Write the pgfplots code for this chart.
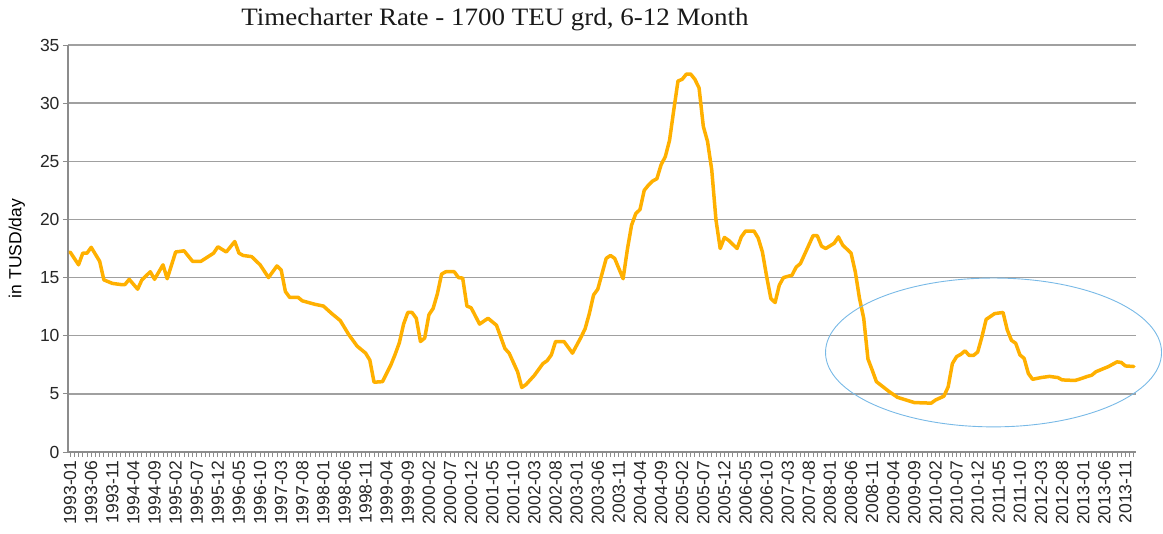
\documentclass[border=0pt]{standalone}
\usepackage{fontspec}
\setmainfont{Liberation Sans}
\newfontfamily\titlefont[FakeStretch=1.08]{Liberation Serif}
\usepackage{pgfplots}
\pgfplotsset{compat=1.18}
\definecolor{linecol}{RGB}{255,176,0}
\definecolor{gridcol}{RGB}{160,160,160}
\definecolor{axcol}{RGB}{140,140,140}
\definecolor{ellcol}{RGB}{120,185,230}
\pgfplotstableread{
i v
0 17.2
2 16.1
3 17.1
4 17.1
5 17.6
7 16.4
8 14.8
10 14.5
12 14.4
13 14.4
14 14.85
16 14.0
17 14.8
19 15.5
20 14.85
22 16.1
23 14.9
25 17.2
27 17.3
29 16.4
31 16.4
34 17.1
35 17.65
37 17.2
39 18.1
40 17.1
41 16.9
43 16.8
45 16.1
47 15.0
49 16.0
50 15.65
51 13.8
52 13.3
54 13.3
55 13.0
58 12.7
60 12.55
62 11.9
64 11.3
65 10.7
66 10.1
67 9.6
68 9.1
70 8.5
71 7.9
72 6.0
74 6.05
76 7.5
77 8.4
78 9.4
79 11.0
80 12.0
81 12.0
82 11.5
83 9.5
84 9.8
85 11.8
86 12.35
87 13.6
88 15.3
89 15.5
91 15.5
92 15.0
93 14.95
94 12.55
95 12.4
97 11.0
99 11.5
101 10.9
103 8.9
104 8.5
106 6.9
107 5.55
108 5.8
110 6.6
112 7.6
113 7.85
114 8.35
115 9.5
117 9.5
119 8.5
121 9.85
122 10.6
123 11.9
124 13.5
125 14.0
127 16.65
128 16.9
129 16.65
131 14.9
132 17.4
133 19.5
134 20.5
135 20.85
136 22.5
137 22.95
138 23.3
139 23.5
140 24.7
141 25.4
142 26.8
143 29.4
144 31.9
145 32.05
146 32.5
147 32.5
148 32.05
149 31.3
150 28.0
151 26.7
152 24.25
153 19.95
154 17.5
155 18.45
156 18.2
158 17.5
159 18.5
160 19.0
162 19.0
163 18.4
164 17.2
165 15.1
166 13.2
167 12.85
168 14.35
169 15.0
171 15.2
172 15.9
173 16.2
174 17.0
176 18.6
177 18.6
178 17.7
179 17.5
181 17.95
182 18.5
183 17.8
185 17.1
186 15.5
187 13.2
188 11.5
189 8.0
190 7.05
191 6.05
194 5.2
196 4.7
200 4.25
204 4.2
205 4.47
207 4.8
208 5.6
209 7.6
210 8.2
211 8.4
212 8.7
213 8.3
214 8.3
215 8.6
216 9.9
217 11.4
219 11.9
221 12.0
222 10.5
223 9.6
224 9.35
225 8.35
226 8.05
227 6.75
228 6.25
230 6.4
232 6.5
234 6.4
235 6.2
238 6.15
239 6.25
241 6.5
242 6.6
243 6.9
245 7.2
246 7.35
248 7.75
249 7.7
250 7.4
252 7.35
}\ratedata
\begin{document}
\begin{tikzpicture}[x=1pt,y=1pt]
\useasboundingbox (-68,-82) rectangle (1095,452);
\begin{axis}[
  at={(0,0)}, anchor=south west,
  scale only axis, width=1068pt, height=407pt,
  xmin=-0.5, xmax=252.5, ymin=0, ymax=35,
  clip=false,
  axis x line*=bottom, axis y line*=left,
  axis line style={axcol, line width=1.6pt},
  ytick={0,5,...,35},
  xtick={0,5,...,250},
  minor xtick={0,1,...,252},
  xticklabels={1993-01,1993-06,1993-11,1994-04,1994-09,1995-02,1995-07,1995-12,1996-05,1996-10,1997-03,1997-08,1998-01,1998-06,1998-11,1999-04,1999-09,2000-02,2000-07,2000-12,2001-05,2001-10,2002-03,2002-08,2003-01,2003-06,2003-11,2004-04,2004-09,2005-02,2005-07,2005-12,2006-05,2006-10,2007-03,2007-08,2008-01,2008-06,2008-11,2009-04,2009-09,2010-02,2010-07,2010-12,2011-05,2011-10,2012-03,2012-08,2013-01,2013-06,2013-11},
  tick align=outside,
  major tick length=5pt, minor tick length=5pt,
  every tick/.style={axcol, line width=0.8pt},
  ymajorgrids, grid style={gridcol, line width=1.3pt},
  /pgf/number format/assume math mode=true,
  yticklabel style={font=\fontsize{17.5}{17.5}\selectfont, text=black!85},
  xticklabel style={rotate=90, anchor=east, font=\fontsize{17.5}{17.5}\selectfont, text=black!85},
  ylabel={in TUSD/day},
  ylabel style={at={(axis description cs:-0.048,0.5)}, anchor=center, font=\fontsize{17.5}{17.5}\selectfont},
]
\addplot[linecol, line width=3.5pt, line join=round, line cap=round] table[x=i, y=v] {\ratedata};
\draw[ellcol, line width=0.9pt] (axis cs:218.75,8.56) ellipse [x radius=39.8, y radius=6.4];
\end{axis}
\node[font=\titlefont\fontsize{25}{25}\selectfont, text=black!90] at (427,432) {Timecharter Rate - 1700 TEU grd, 6-12 Month};
\end{tikzpicture}
\end{document}
